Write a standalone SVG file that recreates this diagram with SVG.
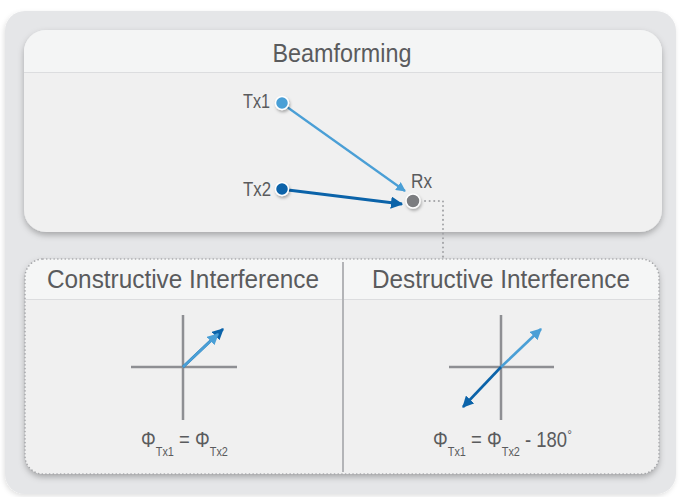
<svg xmlns="http://www.w3.org/2000/svg" width="681" height="497" viewBox="0 0 681 497">
  <style>
    .lbl { font-family: "Liberation Sans", "DejaVu Sans", sans-serif; fill: #5a5b5d; }
    .title { font-size: 25px; }
    .node-lbl { font-size: 20px; }
    .formula { font-size: 22px; }
    .sub { font-size: 13px; }
    .axis { stroke: #8e8f93; stroke-width: 2.5; fill: none; }
    .light { stroke: #4a9fd6; fill: none; }
    .dark { stroke: #0b63a9; fill: none; }
    .dots { stroke: #a3a4a7; stroke-width: 2; stroke-dasharray: 0.1 4.5; stroke-linecap: round; fill: none; }
    .divider { stroke: #dcdddf; stroke-width: 1; }
  </style>
  <defs>
    <filter id="shadow" x="-10%" y="-10%" width="120%" height="130%">
      <feDropShadow dx="0" dy="3" stdDeviation="3" flood-color="#000" flood-opacity="0.28"/>
    </filter>
    <filter id="softShadow" x="-10%" y="-10%" width="120%" height="130%">
      <feDropShadow dx="-1" dy="2" stdDeviation="2.5" flood-color="#000" flood-opacity="0.12"/>
    </filter>
    <filter id="dotShadow" x="-50%" y="-50%" width="200%" height="200%">
      <feDropShadow dx="1" dy="2" stdDeviation="1.5" flood-color="#000" flood-opacity="0.3"/>
    </filter>
    <marker id="headLight" viewBox="0 0 10 10" refX="9" refY="5" markerWidth="4.4" markerHeight="4.4" orient="auto" markerUnits="strokeWidth">
      <path d="M0,0 L10,5 L0,10 Z" fill="#4a9fd6"/>
    </marker>
    <marker id="headDark" viewBox="0 0 10 10" refX="9" refY="5" markerWidth="4.4" markerHeight="4.4" orient="auto" markerUnits="strokeWidth">
      <path d="M0,0 L10,5 L0,10 Z" fill="#0b63a9"/>
    </marker>
    <clipPath id="cardClip">
      <rect x="24" y="30" width="638" height="202" rx="22"/>
    </clipPath>
    <clipPath id="lowerClip">
      <rect x="25" y="259" width="634" height="215" rx="18"/>
    </clipPath>
  </defs>

  <rect width="681" height="497" fill="#ffffff"/>

  <!-- outer frame -->
  <rect x="5" y="11" width="671" height="483" rx="20" fill="#e5e6e8" filter="url(#softShadow)"/>

  <!-- Beamforming card -->
  <g id="beamforming">
    <rect x="24" y="30" width="638" height="202" rx="22" fill="#f0f0f0" filter="url(#shadow)"/>
    <rect x="24" y="30" width="638" height="42" fill="#f4f5f5" clip-path="url(#cardClip)"/>
    <line class="divider" x1="24" y1="72.5" x2="662" y2="72.5"/>
    <text class="lbl title" x="342" y="62" text-anchor="middle" textLength="139" lengthAdjust="spacingAndGlyphs">Beamforming</text>
  </g>

  <!-- Interference panels -->
  <g id="interference">
    <rect x="25" y="259" width="634" height="215" rx="18" fill="#f0f0f0" filter="url(#shadow)"/>
    <rect x="25" y="259" width="634" height="40" fill="#f5f6f6" clip-path="url(#lowerClip)"/>
    <line class="divider" x1="25" y1="299.5" x2="659" y2="299.5"/>
    <rect x="25" y="259" width="634" height="215" rx="18" fill="none" stroke="#a6a7aa" stroke-width="1.6" stroke-dasharray="0.1 3.6" stroke-linecap="round"/>
    <line x1="343" y1="262" x2="343" y2="472" stroke="#b3b4b7" stroke-width="2"/>
  </g>

  <g id="constructive">
    <text class="lbl title" x="183" y="288" text-anchor="middle" textLength="272" lengthAdjust="spacingAndGlyphs">Constructive Interference</text>
    <line class="axis" x1="183" y1="315" x2="183" y2="420"/>
    <line class="axis" x1="131" y1="367" x2="237" y2="367"/>
    <line class="dark" stroke-width="2.6" x1="183" y1="367" x2="223" y2="329" marker-end="url(#headDark)"/>
    <line class="light" stroke-width="2.6" x1="183" y1="367" x2="218" y2="334" marker-end="url(#headLight)"/>
    <text class="lbl formula" transform="translate(141,447) scale(0.84,1)">Φ<tspan class="sub" dy="9">Tx1</tspan><tspan dy="-9"> = Φ</tspan><tspan class="sub" dy="9">Tx2</tspan></text>
  </g>

  <g id="destructive">
    <text class="lbl title" x="501" y="288" text-anchor="middle" textLength="258" lengthAdjust="spacingAndGlyphs">Destructive Interference</text>
    <line class="axis" x1="501" y1="315" x2="501" y2="420"/>
    <line class="axis" x1="449" y1="367" x2="554" y2="367"/>
    <line class="light" stroke-width="2.6" x1="501" y1="367" x2="541" y2="329" marker-end="url(#headLight)"/>
    <line class="dark" stroke-width="2.6" x1="501" y1="367" x2="463" y2="407" marker-end="url(#headDark)"/>
    <text class="lbl formula" transform="translate(433,447) scale(0.84,1)">Φ<tspan class="sub" dy="9">Tx1</tspan><tspan dy="-9"> = Φ</tspan><tspan class="sub" dy="9">Tx2</tspan><tspan dy="-9"> - 180</tspan><tspan dy="-7" font-size="14">°</tspan></text>
  </g>

  <!-- connectors -->
  <g id="connectors">
    <line class="light" stroke-width="2.2" x1="287" y1="107" x2="405" y2="191" marker-end="url(#headLight)"/>
    <line class="dark" stroke-width="2.8" x1="288" y1="190" x2="402" y2="204" marker-end="url(#headDark)"/>
    <polyline class="dots" points="425,201 443,201 443,259"/>
  </g>

  <g id="tx1">
    <circle cx="282" cy="103" r="6.5" fill="#4a9fd6" stroke="#ffffff" stroke-width="1.5" filter="url(#dotShadow)"/>
    <text class="lbl node-lbl" x="270" y="108" text-anchor="end" textLength="27" lengthAdjust="spacingAndGlyphs">Tx1</text>
  </g>
  <g id="tx2">
    <circle cx="282" cy="189" r="6.5" fill="#0b63a9" stroke="#ffffff" stroke-width="1.5" filter="url(#dotShadow)"/>
    <text class="lbl node-lbl" x="271" y="196" text-anchor="end" textLength="28" lengthAdjust="spacingAndGlyphs">Tx2</text>
  </g>
  <g id="rx">
    <circle cx="413" cy="201" r="7" fill="#7c7d80" stroke="#ffffff" stroke-width="1.5" filter="url(#dotShadow)"/>
    <text class="lbl node-lbl" x="411" y="188" textLength="21" lengthAdjust="spacingAndGlyphs">Rx</text>
  </g>
</svg>
